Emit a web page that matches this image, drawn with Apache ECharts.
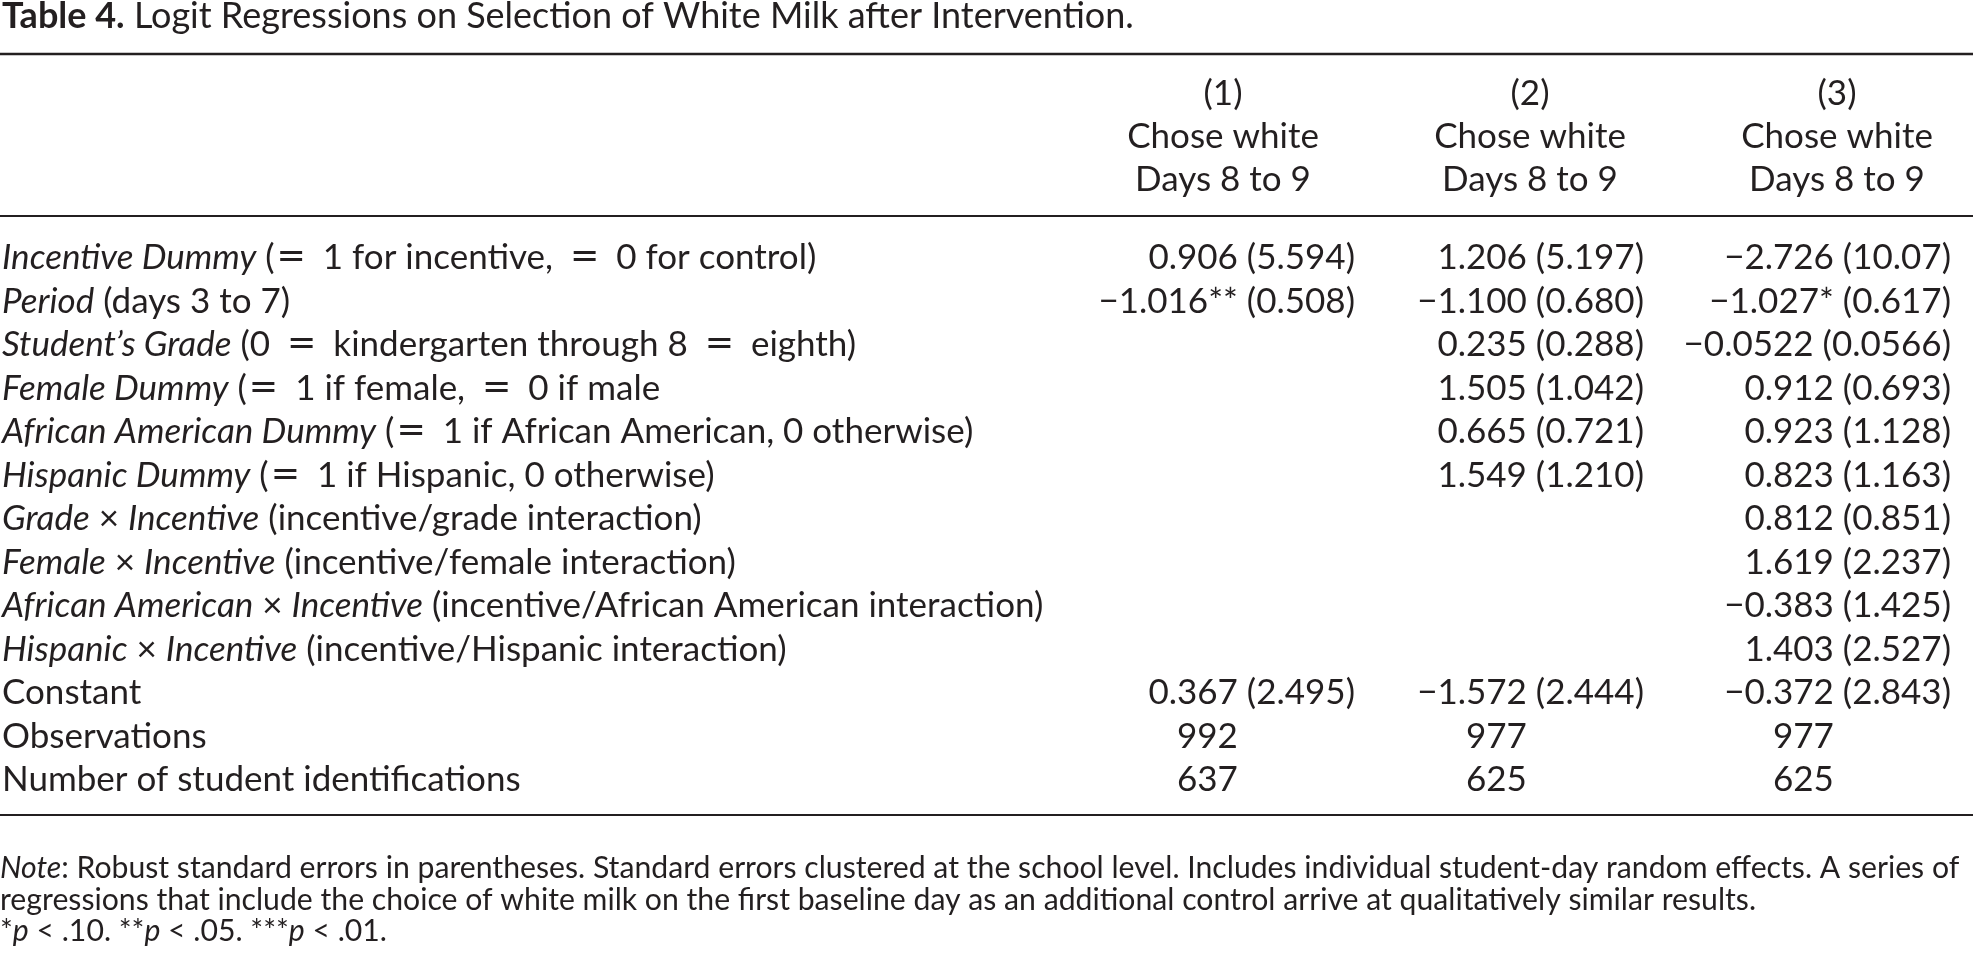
<!DOCTYPE html>
<html>
<head>
<meta charset="utf-8">
<title>Table 4</title>
<script src="https://cdn.jsdelivr.net/npm/echarts@6/dist/echarts.min.js"></script>
<style>
  html, body { margin: 0; padding: 0; background: #fff; }
  #chart { width: 1973px; height: 954px; }
</style>
</head>
<body>
<div id="chart"></div>
<script>
// table content
const titleText = '{b|Table 4.} Logit Regressions on Selection of White Milk after Intervention.';

const modelNumbers = ['(1)', '(2)', '(3)'];
const dependentVars = ['Chose white', 'Chose white', 'Chose white'];
const periods = ['Days 8 to 9', 'Days 8 to 9', 'Days 8 to 9'];

const rowLabels = [
  '{i|Incentive Dummy} (= 1 for incentive, = 0 for control)',
  '{i|Period} (days 3 to 7)',
  '{i|Student\u2019s Grade} (0 = kindergarten through 8 = eighth)',
  '{i|Female Dummy} (= 1 if female, = 0 if male',
  '{i|African American Dummy} (= 1 if African American, 0 otherwise)',
  '{i|Hispanic Dummy} (= 1 if Hispanic, 0 otherwise)',
  '{i|Grade} \u00d7 {i|Incentive} (incentive/grade interaction)',
  '{i|Female} \u00d7 {i|Incentive} (incentive/female interaction)',
  '{i|African American} \u00d7 {i|Incentive} (incentive/African American interaction)',
  '{i|Hispanic} \u00d7 {i|Incentive} (incentive/Hispanic interaction)',
  'Constant',
  'Observations',
  'Number of student identifications'
];

// coefficients, significance stars, robust standard errors (rows 0..10)
const coef1 = ['0.906', '-1.016', '', '', '', '', '', '', '', '', '0.367'];
const stars1 = ['', '**', '', '', '', '', '', '', '', '', ''];
const se1 = ['5.594', '0.508', '', '', '', '', '', '', '', '', '2.495'];

const coef2 = ['1.206', '-1.100', '0.235', '1.505', '0.665', '1.549', '', '', '', '', '-1.572'];
const stars2 = ['', '', '', '', '', '', '', '', '', '', ''];
const se2 = ['5.197', '0.680', '0.288', '1.042', '0.721', '1.210', '', '', '', '', '2.444'];

const coef3 = ['-2.726', '-1.027', '-0.0522', '0.912', '0.923', '0.823', '0.812', '1.619', '-0.383', '1.403', '-0.372'];
const stars3 = ['', '*', '', '', '', '', '', '', '', '', ''];
const se3 = ['10.07', '0.617', '0.0566', '0.693', '1.128', '1.163', '0.851', '2.237', '1.425', '2.527', '2.843'];

const observations = [992, 977, 977];
const studentIds = [637, 625, 625];

const noteLines = [
  '{i|Note}: Robust standard errors in parentheses. Standard errors clustered at the school level. Includes individual student-day random effects. A series of',
  'regressions that include the choice of white milk on the first baseline day as an additional control arrive at qualitatively similar results.',
  '*{i|p} < .10. **{i|p} < .05. ***{i|p} < .01.'
];

const FONT = 'Lato';
const INK = '#231f20';
const BODY = 35;
const NOTE = 30.2;

const minus = s => s.replace('-', '\u2212');
// the "=" in the labels is set like a math relation: wider glyph, more room
// (tight against an opening parenthesis)
const mathEq = s => s.replace(/\(=/g, '({eqo|=}').replace(/([^|])=/g, '$1{eq|=}');

// build the body cells
const coefs = [coef1, coef2, coef3];
const stars = [stars1, stars2, stars3];
const ses = [se1, se2, se3];
const cells = [];
coefs.forEach((col, c) => {
  col.forEach((v, r) => {
    if (!v) return;
    cells.push({ col: c, row: r, kind: 'coef', text: minus(v) + stars[c][r] + ' (' + ses[c][r] + ')' });
  });
});
observations.forEach((v, c) => cells.push({ col: c, row: 11, kind: 'count', text: String(v) }));
studentIds.forEach((v, c) => cells.push({ col: c, row: 12, kind: 'count', text: String(v) }));

// counts line up with the end of the coefficient, not of the "(se)"
const ctx = document.createElement('canvas').getContext('2d');
ctx.font = BODY + 'px ' + FONT;
const seWidth = ctx.measureText(' (0.000)').width;

// right edge of each column relative to its band centre
const rightOffset = [132, 114, 114];

const chart = echarts.init(document.getElementById('chart'));

const eqStyle = { fontFamily: 'DejaVu Sans', fontSize: BODY, color: INK };

const option = {
  animation: false,
  backgroundColor: '#fff',
  title: [
    {
      text: titleText,
      left: 2,
      top: -2,
      padding: 0,
      textStyle: {
        fontFamily: FONT, fontSize: 36, fontWeight: 'normal', color: INK, lineHeight: 36,
        rich: { b: { fontFamily: FONT, fontSize: 36, fontWeight: 'bold', color: INK, lineHeight: 36 } }
      }
    },
    {
      text: noteLines.join('\n'),
      left: 0,
      top: 853,
      padding: 0,
      textStyle: {
        fontFamily: FONT, fontSize: NOTE, fontWeight: 'normal', color: INK, lineHeight: 31.5,
        rich: { i: { fontFamily: FONT, fontSize: NOTE, fontStyle: 'italic', color: INK, lineHeight: 31.5 } }
      }
    }
  ],
  grid: { left: 1069.5, width: 921, top: 236.25, height: 565.5, containLabel: false, outerBoundsMode: 'none' },
  xAxis: {
    type: 'category',
    position: 'top',
    data: modelNumbers.map((m, i) => m + '\n' + dependentVars[i] + '\n' + periods[i]),
    axisLine: { show: false },
    axisTick: { show: false },
    splitLine: { show: false },
    axisLabel: { interval: 0, fontFamily: FONT, fontSize: BODY, color: INK, lineHeight: 43, margin: 35.5 }
  },
  yAxis: {
    type: 'category',
    inverse: true,
    data: rowLabels.map(mathEq),
    axisLine: { show: false },
    axisTick: { show: false },
    splitLine: { show: false },
    axisLabel: {
      interval: 0, align: 'left', margin: 1067.5,
      fontFamily: FONT, fontSize: BODY, color: INK,
      rich: {
        i: { fontFamily: FONT, fontSize: BODY, fontStyle: 'italic', color: INK },
        eq: Object.assign({ padding: [0, 8] }, eqStyle),
        eqo: Object.assign({ padding: [0, 8, 0, 2] }, eqStyle)
      }
    }
  },
  series: [{
    type: 'custom',
    silent: true,
    clip: false,
    data: cells.map(c => [c.col, c.row]),
    renderItem: function (params, api) {
      const cell = cells[params.dataIndex];
      const p = api.coord([api.value(0), api.value(1)]);
      let x = p[0] + rightOffset[cell.col];
      if (cell.kind === 'count') x -= seWidth;
      return {
        type: 'text',
        x: x,
        y: p[1],
        style: {
          text: cell.text, align: 'right', verticalAlign: 'middle',
          fontFamily: FONT, fontSize: BODY, fill: INK
        }
      };
    }
  }],
  graphic: [
    { type: 'line', silent: true, shape: { x1: 0, y1: 54, x2: 1973, y2: 54 }, style: { stroke: INK, lineWidth: 2.5 } },
    { type: 'line', silent: true, shape: { x1: 0, y1: 216, x2: 1973, y2: 216 }, style: { stroke: INK, lineWidth: 2 } },
    { type: 'line', silent: true, shape: { x1: 0, y1: 815, x2: 1973, y2: 815 }, style: { stroke: INK, lineWidth: 2 } }
  ]
};

option && chart.setOption(option);
</script>
</body>
</html>
